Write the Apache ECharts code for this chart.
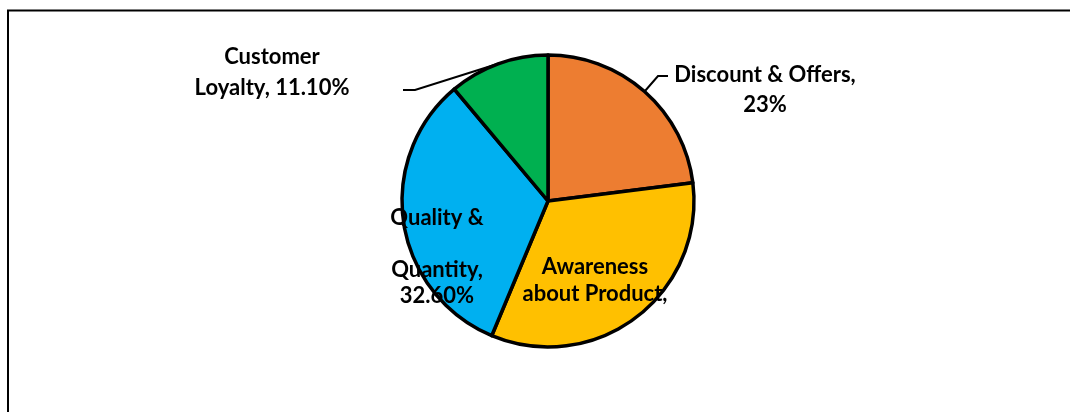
<!DOCTYPE html>
<html>
<head>
<meta charset="utf-8">
<title>Pie chart</title>
<script src="https://cdn.jsdelivr.net/npm/echarts@6/dist/echarts.min.js"></script>
<style>
  html, body { margin: 0; padding: 0; background: #fff; }
  #chart { width: 1070px; height: 412px; }
</style>
</head>
<body>
<div id="chart"></div>
<script>
// Survey shares per factor (percent)
const categories = ['Discount & Offers', 'Awareness about Product', 'Quality & Quantity', 'Customer Loyalty'];
const shares = [23, 33.3, 32.6, 11.1];
const shareLabels = ['23%', '33.30%', '32.60%', '11.10%'];
const colors = ['#ED7D31', '#FFC000', '#00B0F0', '#00B050'];

// Label text for each slice, as shown beside / inside the pie
const labelTexts = [
  categories[0] + ',\n' + shareLabels[0],
  'Awareness\nabout Product,',
  'Quality &\n\nQuantity,\n' + shareLabels[2],
  'Customer\nLoyalty, ' + shareLabels[3]
];

// Label placement: centre of the text block and line height
const labelPlace = [
  { x: 765, y: 90, lh: 30, line: [[658, 76], [668, 76]] },
  { x: 595, y: 280, lh: 27 },
  { x: 437, y: 257, lh: 26 },
  { x: 272, y: 72, lh: 31, line: [[415, 90], [403, 90]] }
];

const chart = echarts.init(document.getElementById('chart'), null, { renderer: 'canvas' });

const data = categories.map((name, i) => ({
  name: name,
  value: shares[i],
  itemStyle: { color: colors[i] },
  label: {
    formatter: labelTexts[i],
    lineHeight: labelPlace[i].lh
  },
  labelLine: { show: !!labelPlace[i].line }
}));

chart.setOption({
  animation: false,
  backgroundColor: '#ffffff',
  graphic: [{
    type: 'rect',
    shape: { x: 8, y: 10.5, width: 1200, height: 600 },
    style: { fill: 'none', stroke: '#000', lineWidth: 2 },
    silent: true
  }],
  series: [{
    type: 'pie',
    center: [548, 201],
    radius: [0, 146],
    startAngle: 90,
    clockwise: true,
    avoidLabelOverlap: false,
    itemStyle: { borderColor: '#000', borderWidth: 3.5 },
    label: {
      show: true,
      position: 'outside',
      color: '#000',
      fontFamily: 'Lato',
      fontWeight: 'bold',
      fontSize: 22,
      align: 'center'
    },
    labelLine: {
      show: true,
      length: 10,
      length2: 10,
      lineStyle: { color: '#000', width: 2 }
    },
    labelLayout: function (params) {
      const p = labelPlace[params.dataIndex];
      const res = {
        x: p.x,
        y: p.y,
        align: 'center',
        verticalAlign: 'middle'
      };
      if (p.line && params.labelLinePoints) {
        res.labelLinePoints = [params.labelLinePoints[0], p.line[0], p.line[1]];
      }
      return res;
    },
    data: data
  }]
});
</script>
</body>
</html>
